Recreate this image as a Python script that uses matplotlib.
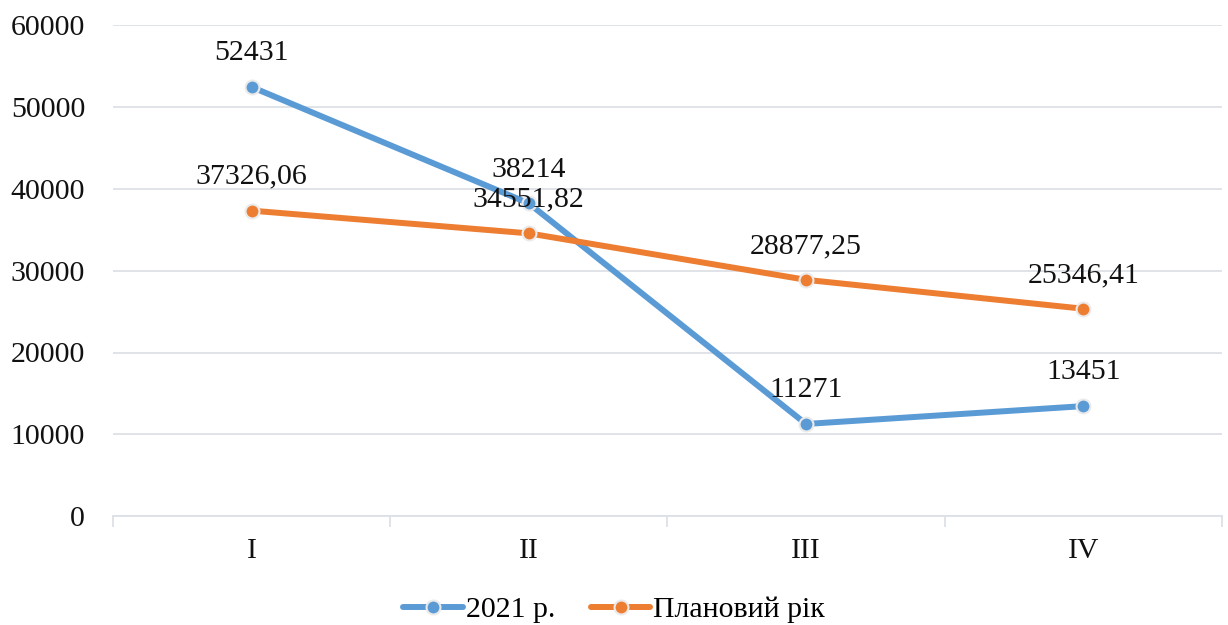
import matplotlib.pyplot as plt
import numpy as np

plt.rcParams['font.family'] = ['Liberation Serif', 'DejaVu Serif']

quarters = ["I", "II", "III", "IV"]
fact_2021 = [52431, 38214, 11271, 13451]
plan_year = [37326.06, 34551.82, 28877.25, 25346.41]
labels_2021 = ["52431", "38214", "11271", "13451"]
labels_plan = ["37326,06", "34551,82", "28877,25", "25346,41"]

blue = "#5B9BD5"
orange = "#ED7D31"
grid_col = "#DDE0E6"
fs = 21.5

fig = plt.figure(figsize=(12.28, 6.25), dpi=100)
ax = fig.add_axes([0.092, 0.174, 0.903, 0.786])

x = np.arange(len(quarters))
for vals, labs, col, name in [(fact_2021, labels_2021, blue, "2021 р."),
                              (plan_year, labels_plan, orange, "Плановий рік")]:
    ax.plot(x, vals, color=col, lw=4.3, marker="o", ms=10,
            markerfacecolor=col, markeredgecolor="#EAEAEA", markeredgewidth=1.5,
            label=name, solid_capstyle="round", zorder=3)
    for xi, v, s in zip(x, vals, labs):
        ax.annotate(s, (xi, v), xytext=(0, 15), textcoords="offset points",
                    ha="center", va="bottom", fontsize=fs, color="#111111")

ax.set_xlim(-0.5, 3.5)
ax.set_ylim(0, 60000)
ax.set_yticks(range(0, 60001, 10000))
ax.yaxis.grid(True, color=grid_col, lw=1.3)
ax.set_axisbelow(True)
ax.tick_params(axis="y", length=0, labelsize=fs, pad=20, labelcolor="#111111")

ax.set_xticks(x)
ax.set_xticklabels(quarters)
ax.set_xticks(np.arange(-0.5, 4, 1), minor=True)
ax.tick_params(axis="x", which="major", length=0, labelsize=fs, pad=16, labelcolor="#111111")
ax.tick_params(axis="x", which="minor", length=8, color=grid_col, width=1.3)

for side in ["top", "right", "left"]:
    ax.spines[side].set_visible(False)
ax.spines["bottom"].set_color(grid_col)
ax.spines["bottom"].set_linewidth(1.3)

fig.legend(loc="lower center", bbox_to_anchor=(0.5, -0.04), ncol=2, frameon=False,
           fontsize=fs, handlelength=2.0, handletextpad=0.1, columnspacing=1.2)

fig.savefig("out.png", dpi=100)
